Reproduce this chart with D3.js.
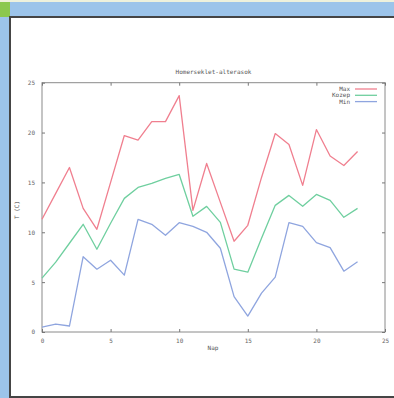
<!DOCTYPE html>
<html><head><meta charset="utf-8">
<script src="https://cdn.jsdelivr.net/npm/d3@7"></script>
<style>
html,body{margin:0;padding:0;background:#9cc4ea;}
svg{display:block;}
</style></head>
<body>
<svg id="c" width="394" height="398"></svg>
<script>
const days = d3.range(0, 24);
const maxT = [11.3, 13.9, 16.5, 12.4, 10.3, 15.0, 19.7, 19.25, 21.1, 21.1, 23.7, 12.2, 16.9, 13.0, 9.1, 10.7, 15.5, 19.9, 18.8, 14.7, 20.3, 17.65, 16.7, 18.1];
const midT = [5.4, 7.0, 8.9, 10.8, 8.3, 10.9, 13.4, 14.5, 14.9, 15.4, 15.8, 11.6, 12.6, 11.0, 6.3, 6.0, 9.4, 12.7, 13.7, 12.6, 13.8, 13.2, 11.5, 12.4];
const minT = [0.5, 0.8, 0.6, 7.55, 6.3, 7.2, 5.7, 11.3, 10.8, 9.7, 10.96, 10.6, 10.0, 8.4, 3.55, 1.6, 3.9, 5.5, 10.96, 10.6, 8.96, 8.46, 6.1, 7.05];
const seriesNames = ["Max", "Kozep", "Min"];
const seriesColors = ["#f07f8f", "#6fcf9f", "#8fa5df"];
const xTicks = [0, 5, 10, 15, 20, 25];
const yTicks = [0, 5, 10, 15, 20, 25];
const title = "Homerseklet-alterasok";
const xLabel = "Nap";
const yLabel = "T (C)";

const svg = d3.select("#c");
// frame
svg.append("rect").attr("x",0).attr("y",0).attr("width",394).attr("height",2).attr("fill","#eef1dc");
svg.append("rect").attr("x",0).attr("y",2).attr("width",10).attr("height",15).attr("fill","#8cc84e");
svg.append("rect").attr("x",10).attr("y",17).attr("width",390).attr("height",380).attr("fill","#ffffff").attr("stroke","#454545").attr("stroke-width",2);

const L = 42, R = 385, T = 82.7, B = 332;
const x = d3.scaleLinear().domain([0,25]).range([L,R]);
const y = d3.scaleLinear().domain([0,25]).range([B,T]);

const font = "'DejaVu Sans Mono', monospace";
const g = svg.append("g");
// border box
g.append("rect").attr("x",L).attr("y",T).attr("width",R-L).attr("height",B-T)
  .attr("fill","none").attr("stroke","#8a8a8a").attr("stroke-width",1);

// axes with inward ticks
const ax = g.append("g").attr("transform",`translate(0,${B})`)
  .call(d3.axisBottom(x).tickValues(xTicks).tickSize(-3).tickPadding(7).tickFormat(d3.format("d")));
const axT = g.append("g").attr("transform",`translate(0,${T})`)
  .call(d3.axisTop(x).tickValues(xTicks).tickSize(-3).tickFormat(""));
const ay = g.append("g").attr("transform",`translate(${L},0)`)
  .call(d3.axisLeft(y).tickValues(yTicks).tickSize(-3).tickPadding(7).tickFormat(d3.format("d")));
const ayR = g.append("g").attr("transform",`translate(${R},0)`)
  .call(d3.axisRight(y).tickValues(yTicks).tickSize(-3).tickFormat(""));
[ax,axT,ay,ayR].forEach(a=>{
  a.select(".domain").remove();
  a.selectAll(".tick line").attr("stroke","#777");
  a.selectAll("text").attr("fill","#666").style("font-family",font).style("font-size","6px");
});

// titles
g.append("text").attr("x",(L+R)/2).attr("y",74).attr("text-anchor","middle")
  .style("font-family",font).style("font-size","6px").attr("fill","#555").text(title);
g.append("text").attr("x",213).attr("y",350).attr("text-anchor","middle")
  .style("font-family",font).style("font-size","6px").attr("fill","#555").text(xLabel);
g.append("text").attr("transform","translate(19,210) rotate(-90)").attr("text-anchor","middle")
  .style("font-family",font).style("font-size","6px").attr("fill","#555").text(yLabel);

// lines
const data = [maxT, midT, minT];
const line = d3.line().x((d,i)=>x(days[i])).y(d=>y(d));
data.forEach((s,k)=>{
  g.append("path").datum(s).attr("d",line).attr("fill","none")
    .attr("stroke",seriesColors[k]).attr("stroke-width",1.3).attr("stroke-linejoin","round");
});

// legend
seriesNames.forEach((n,k)=>{
  const yy = 89 + k*6.3;
  g.append("text").attr("x",350).attr("y",yy+2).attr("text-anchor","end")
    .style("font-family",font).style("font-size","6px").attr("fill","#555").text(n);
  g.append("line").attr("x1",355).attr("x2",377).attr("y1",yy).attr("y2",yy)
    .attr("stroke",seriesColors[k]).attr("stroke-width",1.3);
});
</script>
</body></html>
